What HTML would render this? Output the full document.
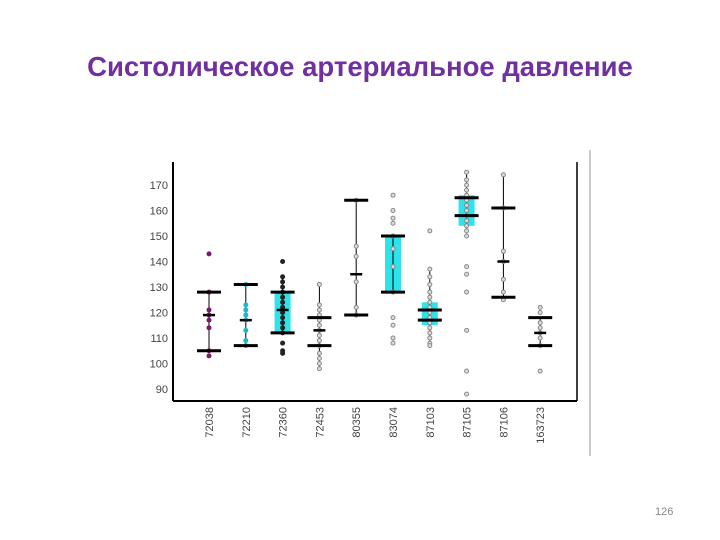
<!DOCTYPE html>
<html><head><meta charset="utf-8"><style>
body{margin:0;width:720px;height:540px;background:#fff;overflow:hidden;position:relative;font-family:"Liberation Sans",sans-serif}
#title{position:absolute;left:0;top:51px;width:720px;text-align:center;font-family:"Liberation Sans","DejaVu Sans",sans-serif;font-size:27.5px;font-weight:bold;color:#7030A0}
#pg{position:absolute;left:655px;top:506px;font-size:11px;color:#888}
</style></head><body>
<div id="title">Систолическое артериальное давление</div>
<svg id="c" width="720" height="540" style="position:absolute;left:0;top:0"></svg>
<div id="pg">126</div>
<script>
const categories=["72038","72210","72360","72453","80355","83074","87103","87105","87106","163723"];
const barHigh=[128,131,128,118,164,150,121,165,161,118];
const barLow=[105,107,112,107,119,128,117,158,126,107];
const means=[119,117,121,113,135,null,null,null,140,112];
const whiskTop=[128,131,134,131,164,150,137,175,174,118];
const whiskBot=[105,107,112,98,119,128,107,153,125,107];
const boxTop=[null,null,128,null,null,150,124,166,null,null];
const boxBot=[null,null,112,null,null,128,115,154,null,null];
const points=[
[143,128,121,119,117,114,105,103],
[131,123,121,119,117,113,109,107],
[140,134,132,130,128,126,124,122,120,118,116,114,112,108,105,104],
[131,123,121,119,117,115,113,111,109,107,104,102,100,98],
[164,146,142,132,122,119],
[166,160,157,155,150,145,138,128,118,115,110,108],
[152,137,134,131,128,126,124,122,120,118,116,114,112,110,108,107],
[175,172,170,168,166,164,162,160,158,156,154,152,150,138,135,128,113,97,88],
[174,161,144,140,133,128,125],
[122,120,116,114,112,110,107,97]];
const colors=["#7a1a6a","#22b5c5","#222","#888","#888","#888","#888","#888","#888","#888"];
const yTicks=[90,100,110,120,130,140,150,160,170];
const svg=document.getElementById('c');
const NS="http://www.w3.org/2000/svg";
const y=v=>185+(170-v)*2.55;
const x=i=>209+i*36.8;
function mk(t,a){const e=document.createElementNS(NS,t);for(const k in a)e.setAttribute(k,a[k]);svg.appendChild(e);return e;}
let e;
e=mk('line',{x1:173,y1:162,x2:173,y2:401,stroke:'#000','stroke-width':2});

e=mk('line',{x1:173,y1:401,x2:577,y2:401,stroke:'#000','stroke-width':2});

e=mk('line',{x1:577,y1:162,x2:577,y2:401,stroke:'#000','stroke-width':1.5});

e=mk('line',{x1:590,y1:150,x2:590,y2:456,stroke:'#999','stroke-width':1});

yTicks.forEach(v=>{const t=mk('text',{x:168,y:y(v)+4,'text-anchor':'end','font-size':11,fill:'#444'});t.textContent=v;
});
categories.forEach((c,i)=>{
 const cx=x(i);
 const t=mk('text',{transform:`translate(${cx+4},${407}) rotate(-90)`,'text-anchor':'end','font-size':11,fill:'#444'});t.textContent=c;
 
 if(boxTop[i]!=null){const b=mk('rect',{x:cx-8,y:y(boxTop[i]),width:16,height:y(boxBot[i])-y(boxTop[i]),fill:'#2fe3ea'});
  }
 const w=mk('line',{x1:cx,y1:y(whiskTop[i]),x2:cx,y2:y(whiskBot[i]),stroke:'#000','stroke-width':1});
 
 points[i].forEach(v=>{const p=mk('circle',{cx:cx,cy:y(v),r:2,fill:i<3?colors[i]:'#ddd',stroke:colors[i],'stroke-width':1});
  });
 [barHigh[i],barLow[i]].forEach(v=>{const l=mk('line',{x1:cx-12,y1:y(v),x2:cx+12,y2:y(v),stroke:'#000','stroke-width':3});
  });
 if(means[i]!=null){const m=mk('line',{x1:cx-6,y1:y(means[i]),x2:cx+6,y2:y(means[i]),stroke:'#000','stroke-width':2.5});
  }
});
</script>
</body></html>
